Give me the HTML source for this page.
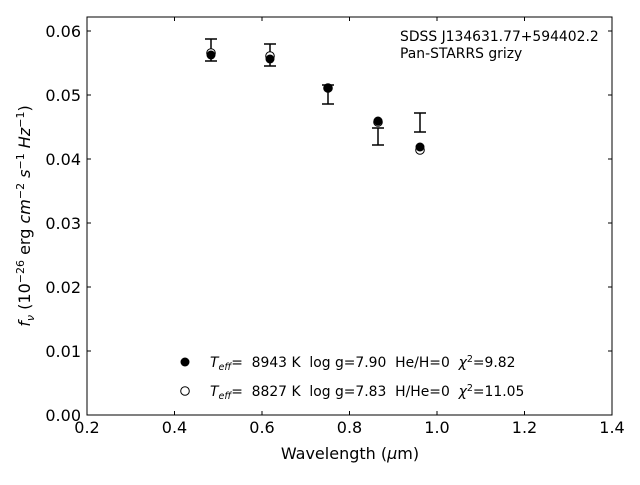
<!DOCTYPE html>
<html><head><style>body{margin:0;background:#fff} text{white-space:pre}</style></head><body>
<svg width="640" height="480" xmlns="http://www.w3.org/2000/svg" font-family="DejaVu Sans, Liberation Sans, sans-serif">
<rect width="640" height="480" fill="#fff"/>
<rect x="87" y="17" width="525" height="398" fill="none" stroke="#000" stroke-width="1"/>
<g stroke="#000" stroke-width="1">
<line x1="87" y1="415" x2="87" y2="411"/><line x1="174.5" y1="415" x2="174.5" y2="411"/><line x1="262" y1="415" x2="262" y2="411"/><line x1="349.5" y1="415" x2="349.5" y2="411"/><line x1="437" y1="415" x2="437" y2="411"/><line x1="524.5" y1="415" x2="524.5" y2="411"/><line x1="612" y1="415" x2="612" y2="411"/>
<line x1="87" y1="17" x2="87" y2="21"/><line x1="174.5" y1="17" x2="174.5" y2="21"/><line x1="262" y1="17" x2="262" y2="21"/><line x1="349.5" y1="17" x2="349.5" y2="21"/><line x1="437" y1="17" x2="437" y2="21"/><line x1="524.5" y1="17" x2="524.5" y2="21"/>
<line x1="87" y1="351" x2="91" y2="351"/><line x1="87" y1="287" x2="91" y2="287"/><line x1="87" y1="223" x2="91" y2="223"/><line x1="87" y1="159" x2="91" y2="159"/><line x1="87" y1="95" x2="91" y2="95"/><line x1="87" y1="31" x2="91" y2="31"/>
<line x1="612" y1="351" x2="608" y2="351"/><line x1="612" y1="287" x2="608" y2="287"/><line x1="612" y1="223" x2="608" y2="223"/><line x1="612" y1="159" x2="608" y2="159"/><line x1="612" y1="95" x2="608" y2="95"/><line x1="612" y1="31" x2="608" y2="31"/>
</g>
<g font-size="16" text-anchor="middle">
<text x="87" y="433">0.2</text><text x="174.5" y="433">0.4</text><text x="262" y="433">0.6</text><text x="349.5" y="433">0.8</text><text x="437" y="433">1.0</text><text x="524.5" y="433">1.2</text><text x="612" y="433">1.4</text>
</g>
<g font-size="16" text-anchor="end">
<text x="81" y="421">0.00</text><text x="81" y="357">0.01</text><text x="81" y="293">0.02</text><text x="81" y="229">0.03</text><text x="81" y="165">0.04</text><text x="81" y="101">0.05</text><text x="81" y="37">0.06</text>
</g>
<text x="350" y="459" font-size="16" text-anchor="middle">Wavelength (<tspan font-style="italic">μ</tspan>m)</text>
<text transform="translate(30,216) rotate(-90)" font-size="16" text-anchor="middle"><tspan font-style="italic">f<tspan font-size="11" dy="4">ν</tspan></tspan><tspan dy="-4"> (10</tspan><tspan font-size="11" dy="-6">−26</tspan><tspan dy="6"> erg </tspan><tspan font-style="italic">cm</tspan><tspan font-size="11" dy="-6">−2</tspan><tspan dy="6" font-style="italic"> s</tspan><tspan font-size="11" dy="-6">−1</tspan><tspan dy="6" font-style="italic"> Hz</tspan><tspan font-size="11" dy="-6">−1</tspan><tspan dy="6">)</tspan></text>
<text x="400" y="41" font-size="13.9">SDSS J134631.77+594402.2</text>
<text x="400" y="58" font-size="13.9">Pan-STARRS grizy</text>
<g stroke="#000" stroke-width="1.5" fill="none">
<path d="M211 39V61M205 39H217M205 61H217"/>
<path d="M270 44V66M264 44H276M264 66H276"/>
<path d="M328 85V104M322 85H334M322 104H334"/>
<path d="M378 128V145M372 128H384M372 145H384"/>
<path d="M420 113V132M414 113H426M414 132H426"/>
</g>
<g fill="#fff" stroke="#000" stroke-width="1">
<circle cx="211" cy="53" r="4.3"/><circle cx="270" cy="56" r="4.3"/><circle cx="328" cy="88" r="4.3"/><circle cx="378" cy="122" r="4.3"/><circle cx="420" cy="150" r="4.3"/>
</g>
<g fill="#000">
<circle cx="211" cy="55" r="4.5"/><circle cx="270" cy="59" r="4.5"/><circle cx="328" cy="88" r="4.5"/><circle cx="378" cy="121" r="4.5"/><circle cx="420" cy="147" r="4.5"/>
</g>
<circle cx="185" cy="362" r="4.5" fill="#000"/>
<circle cx="185" cy="391" r="4.3" fill="#fff" stroke="#000"/>
<text x="210" y="367" font-size="13.9" xml:space="preserve"><tspan font-style="italic">T<tspan font-size="9.5" dy="3">eff</tspan></tspan><tspan dy="-3">=  8943 K  log g=7.90  He/H=0  </tspan><tspan font-style="italic">χ</tspan><tspan font-size="9.5" dy="-5">2</tspan><tspan dy="5">=9.82</tspan></text>
<text x="210" y="396" font-size="13.9" xml:space="preserve"><tspan font-style="italic">T<tspan font-size="9.5" dy="3">eff</tspan></tspan><tspan dy="-3">=  8827 K  log g=7.83  H/He=0  </tspan><tspan font-style="italic">χ</tspan><tspan font-size="9.5" dy="-5">2</tspan><tspan dy="5">=11.05</tspan></text>
</svg>
</body></html>
